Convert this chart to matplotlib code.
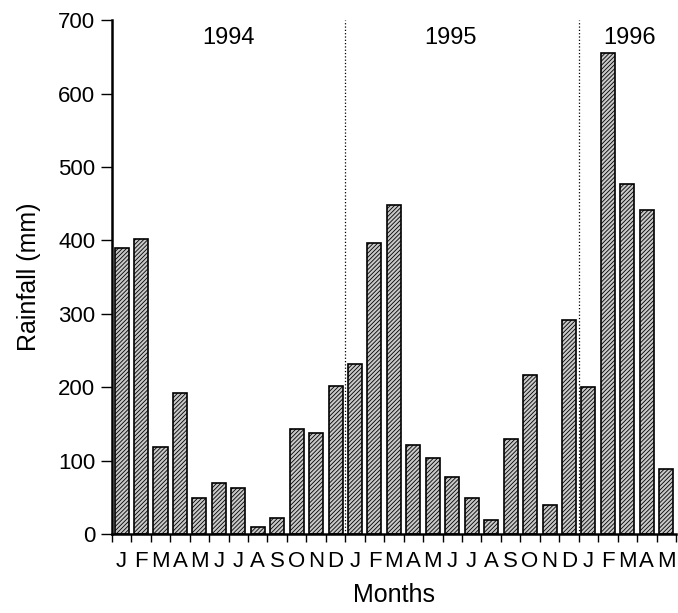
import numpy as np
import matplotlib.pyplot as plt

plt.rcParams['font.family'] = ['Liberation Sans', 'DejaVu Sans']
plt.rcParams['hatch.linewidth'] = 0.6

months = ['J', 'F', 'M', 'A', 'M', 'J', 'J', 'A', 'S', 'O', 'N', 'D',
          'J', 'F', 'M', 'A', 'M', 'J', 'J', 'A', 'S', 'O', 'N', 'D',
          'J', 'F', 'M', 'A', 'M']
rain_1994 = [390, 402, 118, 192, 49, 69, 62, 10, 22, 143, 138, 201]
rain_1995 = [232, 397, 448, 121, 103, 77, 49, 19, 130, 217, 39, 292]
rain_1996 = [200, 656, 477, 441, 88]
years = ['1994', '1995', '1996']

rain = rain_1994 + rain_1995 + rain_1996
x = np.arange(len(rain)) + 0.5

fig = plt.figure(figsize=(6.78, 6.13), dpi=100)
ax = fig.add_axes([0.165, 0.129, 0.832, 0.838])

ax.bar(x, rain, width=0.72, facecolor='#c8c8c8', edgecolor='black',
       hatch='////////', linewidth=1.2)

# year separators
for b in [len(rain_1994), len(rain_1994) + len(rain_1995)]:
    ax.plot([b, b], [0, 700], color='black', linestyle=':', linewidth=0.9)

ax.text(6.0, 676, years[0], ha='center', va='center', fontsize=17)
ax.text(17.4, 676, years[1], ha='center', va='center', fontsize=17)
ax.text(26.6, 676, years[2], ha='center', va='center', fontsize=17)

ax.set_xlim(0, len(rain))
ax.set_ylim(0, 700)
ax.set_yticks(range(0, 701, 100))
ax.set_xticks(np.arange(len(rain) + 1))
ax.set_xticklabels([])
ax.set_xticks(x, months, minor=True)
ax.tick_params(axis='x', which='minor', length=0, labelsize=16, pad=12)
ax.tick_params(axis='x', which='major', length=6, width=1, direction='out')
ax.tick_params(axis='y', length=8, width=1, labelsize=16, pad=4)

for s in ['top', 'right']:
    ax.spines[s].set_visible(False)
ax.spines['left'].set_linewidth(1.8)
ax.spines['bottom'].set_linewidth(1.8)

ax.set_xlabel('Months', fontsize=18, labelpad=8)
ax.set_ylabel('Rainfall (mm)', fontsize=18, labelpad=12)

fig.savefig('out.png', dpi=100)
